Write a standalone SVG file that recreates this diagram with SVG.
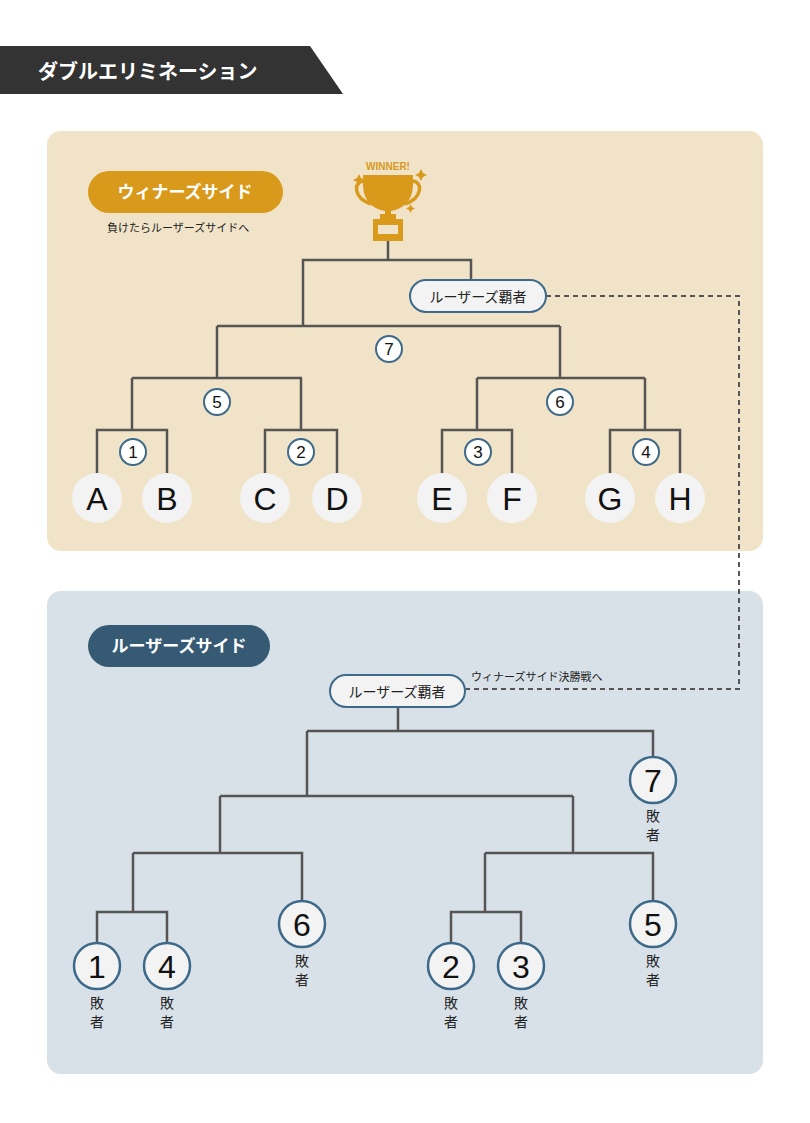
<svg xmlns="http://www.w3.org/2000/svg" width="810" height="1123" viewBox="0 0 810 1123">
<style>
.t{font-family:"Noto Sans CJK JP","Liberation Sans",sans-serif}
.ln{fill:none;stroke:#555;stroke-width:2.5}
.leaf{fill:#f3f3f3}
.lc{fill:#f3f3f3;stroke:#3d6a8a;stroke-width:2.5}
.sc{fill:#fff;stroke:#3d6a8a;stroke-width:2}
.pill{fill:#f3f3f3;stroke:#3d6a8a;stroke-width:2}
.big{font-family:"Liberation Sans",sans-serif;font-size:32px;text-anchor:middle;fill:#111}
.sm{font-family:"Liberation Sans",sans-serif;font-size:17px;text-anchor:middle;fill:#111}
.ls{font-family:"Noto Sans CJK JP",sans-serif;font-size:14px;text-anchor:middle;fill:#222}
</style>
<rect width="810" height="1123" fill="#fff"/>
<g id="title">
<polygon points="0,46 310,46 343,94 0,94" fill="#333"/>
<text class="t" x="38" y="79" font-size="20" font-weight="bold" fill="#fff">ダブルエリミネーション</text>
</g>
<rect x="47" y="131" width="716" height="420" rx="14" fill="#f0e3c8"/>
<rect x="47" y="591" width="716" height="483" rx="14" fill="#d8e1e8"/>
<g id="winners-label">
<rect x="88" y="171" width="195" height="42" rx="21" fill="#d99a1c"/>
<text class="t" x="185" y="198" font-size="17" font-weight="bold" fill="#fff" text-anchor="middle">ウィナーズサイド</text>
<text class="t" x="107" y="232" font-size="11" fill="#222">負けたらルーザーズサイドへ</text>
</g>
<g id="losers-label">
<rect x="88" y="625" width="182" height="42" rx="21" fill="#365a74"/>
<text class="t" x="179" y="652" font-size="17" font-weight="bold" fill="#fff" text-anchor="middle">ルーザーズサイド</text>
</g>
<g id="connectors">
<path class="ln" d="M97,476V430H167V476M132,430V378M265,476V430H337V476M301,430V378M132,378H302M217,378V326M442,476V430H512V476M477,430V378M610,476V430H680V476M645,430V378M477,378H645M560,378V326M217,326H560M303,326V260H471V280M388,240V260"/>
<path d="M546,296H739V689H466" fill="none" stroke="#555" stroke-width="2" stroke-dasharray="5,4"/>
<path class="ln" d="M398,707V731M307,731H653V757M307,731V796M220,796H573M220,796V853M133,853H302V900M133,853V912M97,942V912H167V942M573,796V853M485,853H653V900M485,853V912M451,942V912H521V942"/>
</g>
<g id="trophy" fill="#d99a1c">
<text x="388" y="170" font-family="Liberation Sans,sans-serif" font-size="10" font-weight="bold" text-anchor="middle">WINNER!</text>
<path d="M363,175H413V184C413,201 403,209 391,211L391,215H385L385,211C373,209 363,201 363,184Z"/>
<path d="M364,181C353,181 353,198 371,204" fill="none" stroke="#d99a1c" stroke-width="3.5"/>
<path d="M412,181C423,181 423,198 405,204" fill="none" stroke="#d99a1c" stroke-width="3.5"/>
<rect x="380" y="214" width="16" height="5"/>
<path d="M373,219H403V241H373Z M378,225V234H398V225Z" fill-rule="evenodd"/>
<path d="M357,178l2,-4l2,4l4,2l-4,2l-2,4l-2,-4l-4,-2Z"/>
<path d="M419,173l2,-4l2,4l4,2l-4,2l-2,4l-2,-4l-4,-2Z"/>
<path d="M409,207l1.5,-3l1.5,3l3,1.5l-3,1.5l-1.5,3l-1.5,-3l-3,-1.5Z"/>
</g>
<g id="ls-champ-w"><rect class="pill" x="410" y="280" width="136" height="32" rx="16"/><text class="t" x="478" y="302" font-size="14" text-anchor="middle" fill="#222">ルーザーズ覇者</text></g>
<g id="w-A"><circle class="leaf" cx="97" cy="498" r="25"/><text class="big" x="97" y="510">A</text></g>
<g id="w-B"><circle class="leaf" cx="167" cy="498" r="25"/><text class="big" x="167" y="510">B</text></g>
<g id="w-C"><circle class="leaf" cx="265" cy="498" r="25"/><text class="big" x="265" y="510">C</text></g>
<g id="w-D"><circle class="leaf" cx="337" cy="498" r="25"/><text class="big" x="337" y="510">D</text></g>
<g id="w-E"><circle class="leaf" cx="442" cy="498" r="25"/><text class="big" x="442" y="510">E</text></g>
<g id="w-F"><circle class="leaf" cx="512" cy="498" r="25"/><text class="big" x="512" y="510">F</text></g>
<g id="w-G"><circle class="leaf" cx="610" cy="498" r="25"/><text class="big" x="610" y="510">G</text></g>
<g id="w-H"><circle class="leaf" cx="680" cy="498" r="25"/><text class="big" x="680" y="510">H</text></g>
<g id="m1"><circle class="sc" cx="133" cy="452" r="13"/><text class="sm" x="133" y="458">1</text></g>
<g id="m2"><circle class="sc" cx="301" cy="452" r="13"/><text class="sm" x="301" y="458">2</text></g>
<g id="m3"><circle class="sc" cx="478" cy="452" r="13"/><text class="sm" x="478" y="458">3</text></g>
<g id="m4"><circle class="sc" cx="646" cy="452" r="13"/><text class="sm" x="646" y="458">4</text></g>
<g id="m5"><circle class="sc" cx="217" cy="402" r="13"/><text class="sm" x="217" y="408">5</text></g>
<g id="m6"><circle class="sc" cx="560" cy="402" r="13"/><text class="sm" x="560" y="408">6</text></g>
<g id="m7"><circle class="sc" cx="389" cy="349" r="13"/><text class="sm" x="389" y="355">7</text></g>
<g id="ls-champ-l"><rect class="pill" x="330" y="675" width="135" height="32" rx="16"/><text class="t" x="397" y="697" font-size="14" text-anchor="middle" fill="#222">ルーザーズ覇者</text>
<text class="t" x="471" y="681" font-size="11" fill="#222">ウィナーズサイド決勝戦へ</text></g>
<g id="l7"><circle class="lc" cx="653" cy="780" r="23"/><text class="big" x="653" y="792">7</text><text class="ls" x="653" y="821">敗</text><text class="ls" x="653" y="840">者</text></g>
<g id="l6"><circle class="lc" cx="302" cy="924" r="23"/><text class="big" x="302" y="936">6</text><text class="ls" x="302" y="966">敗</text><text class="ls" x="302" y="985">者</text></g>
<g id="l5"><circle class="lc" cx="653" cy="924" r="23"/><text class="big" x="653" y="936">5</text><text class="ls" x="653" y="966">敗</text><text class="ls" x="653" y="985">者</text></g>
<g id="l1"><circle class="lc" cx="97" cy="966" r="23"/><text class="big" x="97" y="978">1</text><text class="ls" x="97" y="1008">敗</text><text class="ls" x="97" y="1027">者</text></g>
<g id="l4"><circle class="lc" cx="167" cy="966" r="23"/><text class="big" x="167" y="978">4</text><text class="ls" x="167" y="1008">敗</text><text class="ls" x="167" y="1027">者</text></g>
<g id="l2"><circle class="lc" cx="451" cy="966" r="23"/><text class="big" x="451" y="978">2</text><text class="ls" x="451" y="1008">敗</text><text class="ls" x="451" y="1027">者</text></g>
<g id="l3"><circle class="lc" cx="521" cy="966" r="23"/><text class="big" x="521" y="978">3</text><text class="ls" x="521" y="1008">敗</text><text class="ls" x="521" y="1027">者</text></g>
</svg>
